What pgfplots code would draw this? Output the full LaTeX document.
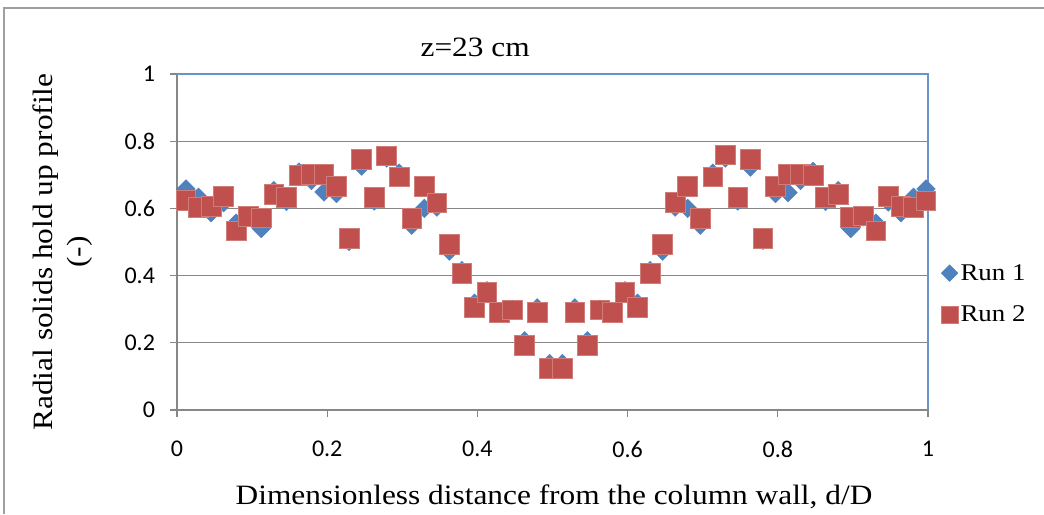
\documentclass[border=0pt]{standalone}
\usepackage{pgfplots}
\pgfplotsset{compat=1.18}
\usepackage{pgfplotstable}
\usepackage{fontspec}
\setmainfont{Liberation Serif}
\newfontfamily\wideserif[FakeStretch=1.12]{Liberation Serif}
\newfontfamily\calibri{Carlito}
\definecolor{runblue}{HTML}{4F81BD}
\definecolor{runred}{HTML}{C0504D}
\definecolor{gridgray}{HTML}{878787}

\pgfplotstableread{
x      r1     r2
0.012  0.658  0.623
0.0287 0.633  0.603
0.0454 0.587  0.605
0.0621 0.617  0.635
0.0788 0.556  0.533
0.0955 0.575  0.577
0.1122 0.540  0.572
0.1289 0.653  0.642
0.1456 0.621  0.632
0.1623 0.708  0.699
0.179  0.683  0.702
0.1957 0.649  0.702
0.2124 0.644  0.665
0.2291 0.502  0.511
0.2458 0.726  0.746
0.2625 0.622  0.633
0.2792 0.750  0.756
0.2959 0.705  0.694
0.3126 0.550  0.570
0.3293 0.600  0.665
0.346  0.604  0.616
0.3627 0.473  0.493
0.3794 0.415  0.407
0.3961 0.318  0.306
0.4128 0.355  0.349
0.4295 0.290  0.291
0.4462 0.300  0.298
0.4629 0.206  0.193
0.4796 0.304  0.291
0.4963 0.138  0.124
0.513  0.138  0.124
0.5297 0.304  0.291
0.5464 0.206  0.193
0.5631 0.300  0.298
0.5798 0.290  0.291
0.5965 0.355  0.349
0.6132 0.318  0.306
0.6299 0.415  0.407
0.6466 0.473  0.493
0.6633 0.604  0.618
0.68   0.600  0.665
0.6967 0.550  0.570
0.7134 0.705  0.694
0.7301 0.750  0.759
0.7468 0.622  0.633
0.7635 0.723  0.746
0.7802 0.505  0.511
0.7969 0.644  0.665
0.8136 0.647  0.701
0.8303 0.683  0.701
0.847  0.710  0.699
0.8637 0.621  0.632
0.8804 0.653  0.642
0.8971 0.540  0.573
0.9138 0.575  0.578
0.9305 0.556  0.533
0.9472 0.619  0.635
0.9639 0.587  0.605
0.9806 0.633  0.602
0.9973 0.658  0.622
}\datatable

\begin{document}
\begin{tikzpicture}
\useasboundingbox (0,0) rectangle (783pt,385.5pt);
\draw[gridgray!80, line width=1.5pt] (3pt,0) -- (3pt,379.5pt) -- (783pt,379.5pt);
\begin{axis}[
  at={(132.75pt,78pt)}, anchor=south west,
  scale only axis, width=563.25pt, height=252pt,
  xmin=0, xmax=1, ymin=0, ymax=1,
  xtick={0,0.2,0.4,0.6,0.8,1},
  ytick={0,0.2,0.4,0.6,0.8,1},
  ymajorgrids, grid style={gridgray, line width=0.8pt},
  axis line style={draw=none},
  tick style={gridgray, line width=0.8pt},
  tick align=outside, major tick length=5pt,
  xtick pos=bottom, ytick pos=left,
  /pgf/number format/assume math mode=true,
  ticklabel style={font=\calibri\fontsize{18}{18}\selectfont, text=black},
  xticklabel style={yshift=-15pt},
  yticklabel style={xshift=-8pt},
  legend style={at={(rel axis cs:1.012,0.345)}, anchor=west, draw=none, fill=none,
    font=\wideserif\fontsize{18}{18}\selectfont, row sep=14pt,
    /tikz/every even column/.append style={column sep=1pt}},
  legend cell align=left,
  clip=false,
]
\draw[gridgray, line width=0.8pt] (rel axis cs:0,0) -- (rel axis cs:1,0);
\draw[gridgray, line width=0.8pt] (rel axis cs:0,0) -- (rel axis cs:0,1);
\draw[runblue!85, line width=1pt] (rel axis cs:0,1) -- (rel axis cs:1,1) -- (rel axis cs:1,0);
\addplot[only marks, mark=square*, mark size=4.9pt,
  mark options={rotate=45, fill=runblue, draw=runblue}, forget plot] table[x=x, y=r1] {\datatable};
\addplot[only marks, mark=square*, mark size=7.4pt,
  mark options={fill=runred, draw=runred!75!white, line width=0.6pt}, forget plot] table[x=x, y=r2] {\datatable};
\addlegendimage{only marks, mark=square*, mark size=4.4pt, mark options={rotate=45, fill=runblue, draw=runblue}}
\addlegendentry{Run 1}
\addlegendimage{only marks, mark=square*, mark size=6.2pt, mark options={fill=runred, draw=runred!75!white}}
\addlegendentry{Run 2}
\node[font=\wideserif\fontsize{21}{21}\selectfont] at (rel axis cs:0.397,1.08) {z=23 cm};
\node[font=\wideserif\fontsize{21}{21}\selectfont] at (rel axis cs:0.502,-0.259) {Dimensionless distance from the column wall, d/D};
\node[font=\wideserif\fontsize{21}{26}\selectfont, rotate=90, align=center] at (rel axis cs:-0.1525,0.47) {Radial solids hold up profile\\(-)};
\end{axis}
\end{tikzpicture}
\end{document}
